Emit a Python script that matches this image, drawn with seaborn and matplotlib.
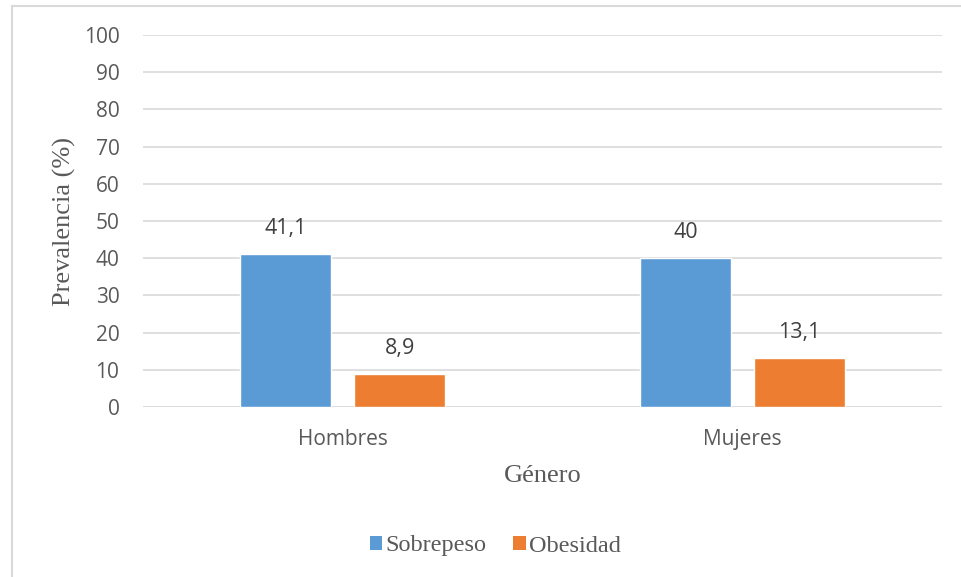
import matplotlib
matplotlib.use("Agg")
import matplotlib.pyplot as plt
import seaborn as sns
import pandas as pd
from matplotlib.lines import Line2D
from matplotlib.patches import Patch

# Prevalence of overweight and obesity by gender
generos = ["Hombres", "Mujeres"]
sobrepeso = [41.1, 40.0]
obesidad = [8.9, 13.1]
series = ["Sobrepeso", "Obesidad"]
colores = ["#5B9BD5", "#ED7D31"]
y_ticks = list(range(0, 101, 10))

df = pd.DataFrame({
    "Género": generos * 2,
    "Grupo": [series[0]] * 2 + [series[1]] * 2,
    "Valor": sobrepeso + obesidad,
})

sns.set_theme(style="white")
plt.rcParams["font.family"] = ["Open Sans", "DejaVu Sans"]

W, H = 961, 577
fig = plt.figure(figsize=(W / 100, H / 100), dpi=100)
ax = fig.add_axes([143 / W, 1 - 407 / H, (942 - 143) / W, (407 - 35) / H])

sns.barplot(data=df, x="Género", y="Valor", hue="Grupo", hue_order=series,
            palette=colores, width=0.57, gap=0.2, saturation=1,
            ax=ax, legend=False, zorder=3)

ax.set_xlim(-0.5, 1.5)
ax.set_ylim(0, 100)
ax.set_yticks(y_ticks)
ax.yaxis.grid(True, color="#D9D9D9", linewidth=1.2, zorder=0)
ax.set_axisbelow(True)
for s in ax.spines.values():
    s.set_visible(False)
ax.axhline(0, color="#D9D9D9", linewidth=1.2, zorder=1)

ax.tick_params(axis="both", length=0, labelsize=15, colors="#595959")
ax.tick_params(axis="y", pad=17)
ax.tick_params(axis="x", pad=16)

serif = ["Liberation Serif", "DejaVu Serif"]
ax.set_ylabel("Prevalencia (%)", family=serif, fontsize=19, color="#595959", labelpad=5.5)
ax.set_xlabel("Género", family=serif, fontsize=19, color="#595959", labelpad=11)

# value labels above the bars, comma as decimal separator
for cont in ax.containers:
    labels = [f"{b.get_height():g}".replace(".", ",") for b in cont]
    ax.bar_label(cont, labels=labels, padding=11, fontsize=15.5, color="#404040")

handles = [Patch(facecolor=c, edgecolor="none") for c in colores]
fig.legend(handles, series, loc="center", bbox_to_anchor=(495.5 / W, 1 - 546 / H),
           ncol=2, frameon=False, handlelength=0.5, handleheight=0.5,
           handletextpad=0.15, columnspacing=1.1,
           prop={"family": serif, "size": 17.5}, labelcolor="#595959")

# chart-area frame (left and top edges)
bx, by = 11.5 / W, 1 - 5.5 / H
fig.add_artist(Line2D([bx, bx], [0, by], transform=fig.transFigure,
                      color="#D9D9D9", linewidth=1.5))
fig.add_artist(Line2D([bx, 1], [by, by], transform=fig.transFigure,
                      color="#D9D9D9", linewidth=1.5))

fig.savefig("out.png", dpi=100, facecolor="white")
